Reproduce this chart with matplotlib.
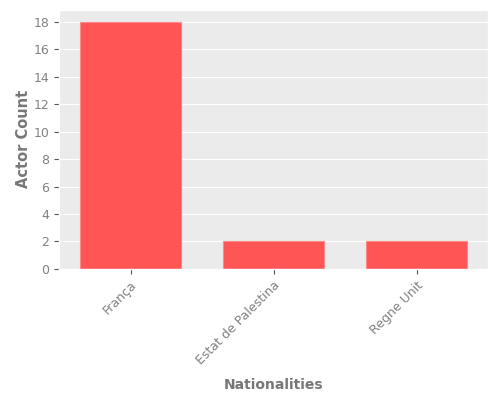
import matplotlib
matplotlib.use("Agg")
import matplotlib.pyplot as plt

categories = ["França", "Estat de Palestina", "Regne Unit"]
counts = [18, 2, 2]

plt.style.use("ggplot")
fig = plt.figure(figsize=(5, 4), dpi=100)
ax = fig.add_axes([0.118, 0.328, 0.858, 0.648])
ax.set_facecolor("#EBEBEB")
ax.bar(range(len(categories)), counts, width=0.7, color="#FF5555", edgecolor="#FF8888", linewidth=0.8)
ax.set_xlim(-0.5, 2.5)
ax.set_ylim(0, 18.9)
ax.set_yticks(range(0, 19, 2))
ax.set_xticks(range(len(categories)))
ax.set_xticklabels(categories, rotation=45, ha="right", rotation_mode="anchor", fontsize=9, color="#808080")
ax.tick_params(axis="y", labelsize=9, labelcolor="#808080")
ax.set_ylabel("Actor Count", fontsize=10.5, fontweight="bold", color="#777777", labelpad=2)
ax.set_xlabel("Nationalities", fontsize=10, fontweight="bold", color="#777777", labelpad=8)
ax.xaxis.grid(False)
fig.savefig("out.png", dpi=100)
